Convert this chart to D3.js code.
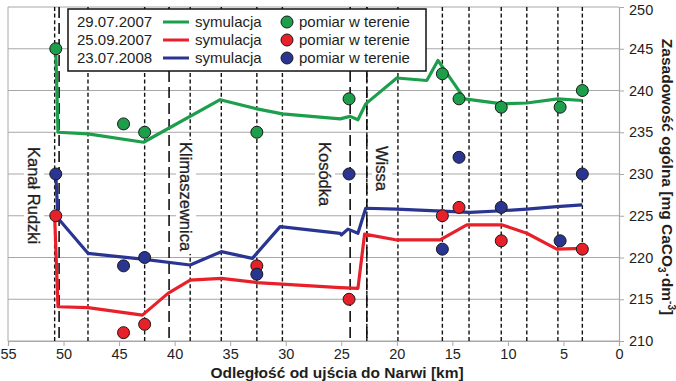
<!DOCTYPE html>
<html><head><meta charset="utf-8">
<script src="https://cdn.jsdelivr.net/npm/d3@7/dist/d3.min.js"></script>
<style>
html,body{margin:0;padding:0;background:#fff;}
svg{display:block;font-family:"Liberation Sans",Arial,Helvetica,sans-serif;}
</style></head>
<body>
<svg id="c" width="676" height="381"></svg>
<script>
// ---- data ----
const xTicks = [55,50,45,40,35,30,25,20,15,10,5,0];
const yTicks = [210,215,220,225,230,235,240,245,250];

const seriesNames = ["29.07.2007","25.09.2007","23.07.2008"];
const seriesColors = ["#1c9e4b","#e8202a","#2a3592"];

// simulation lines: [km, value]
const simGreen = [[50.7,245],[50.5,235],[47.8,234.8],[42.8,233.8],[35.9,238.9],[32.6,237.8],[30.3,237.2],[25.1,236.6],[24.2,236.9],[23.5,236.5],[22.8,238.4],[20.0,241.5],[17.3,241.2],[16.3,243.6],[13.9,239.0],[10.5,238.4],[8.3,238.5],[5.5,239.0],[3.3,238.8]];
const simRed = [[50.8,225],[50.5,214.1],[47.8,214.0],[42.9,213.1],[40.6,215.7],[38.6,217.3],[35.8,217.5],[32.6,217.0],[25.1,216.4],[23.5,216.3],[22.9,222.8],[20.0,222.1],[16.1,222.1],[13.7,223.9],[10.5,223.9],[8.3,222.9],[5.6,221.0],[3.3,221.1]];
const simBlue = [[50.7,230],[50.5,224.7],[47.8,220.5],[42.9,219.8],[38.6,219.1],[35.8,220.7],[33.0,219.9],[30.5,223.7],[25.1,222.9],[25.0,222.7],[24.4,223.4],[23.5,222.9],[22.8,225.9],[20.0,225.8],[13.4,225.4],[10.5,225.6],[8.3,225.8],[5.6,226.1],[3.3,226.3]];

// field measurements: [km, value]
const measGreen = [[50.7,245],[44.6,236],[42.7,235],[32.6,235],[24.3,239],[15.9,242],[14.4,239],[10.6,238],[5.3,238],[3.3,240]];
const measRed = [[50.7,225],[44.6,211],[42.7,212],[32.6,219],[24.3,215],[15.9,225],[14.4,226],[10.6,222],[3.3,221]];
const measBlue = [[50.7,230],[44.6,219],[42.7,220],[32.6,218],[24.3,230],[15.9,221],[14.4,232],[10.6,226],[5.3,222],[3.3,230]];

// vertical reference lines
const stationKm = [50.8,47.8,42.7,38.6,35.8,32.6,30.3,22.7,19.9,15.9,13.5,10.6,8.3,5.5,3.3];
const tributaryKm = [50.4,40.5,24.2,22.7];
const tributaryNames = ["Kanał Rudzki","Klimaszewnica","Kosódka","Wissa"];

const xTitle = "Odległość od ujścia do Narwi [km]";
const legendLine = "symulacja";
const legendDot = "pomiar w terenie";

// ---- chart ----
const svg = d3.select("#c");
const L = 8, R = 619, T = 7, B = 341;
const x = d3.scaleLinear().domain([55,0]).range([L,R]);
const y = d3.scaleLinear().domain([210,250]).range([B,T]);
const gridC = "#a8a8a8", textC = "#1e1e1e";

// horizontal grid
svg.append("g").selectAll("line").data(yTicks).join("line")
  .attr("x1",L).attr("x2",R).attr("y1",d=>y(d)).attr("y2",d=>y(d))
  .attr("stroke",gridC).attr("stroke-width",1);
// left border
svg.append("line").attr("x1",L).attr("x2",L).attr("y1",T).attr("y2",B)
  .attr("stroke",gridC).attr("stroke-width",1);

// vertical station lines (short dash)
svg.append("g").selectAll("line").data(stationKm).join("line")
  .attr("x1",d=>x(d)).attr("x2",d=>x(d)).attr("y1",T).attr("y2",B)
  .attr("stroke","#111").attr("stroke-width",1.4).attr("stroke-dasharray","4,2.6");
// tributary lines (long dash)
svg.append("g").selectAll("line").data(tributaryKm).join("line")
  .attr("x1",d=>x(d)).attr("x2",d=>x(d)).attr("y1",T).attr("y2",B)
  .attr("stroke","#111").attr("stroke-width",1.6).attr("stroke-dasharray","11,5");

// tributary labels (rotated, white background)
const labelPos = [[34,147],[186,142],[325,142],[382,146]];
const lg = svg.append("g");
tributaryNames.forEach((n,i)=>{
  const g = lg.append("g").attr("transform",`translate(${labelPos[i][0]},${labelPos[i][1]}) rotate(90)`);
  const t = g.append("text").attr("x",0).attr("y",0).attr("dy","0.36em")
    .attr("font-size",16.5).attr("fill",textC).attr("stroke",textC).attr("stroke-width",0.3).text(n);
  const bb = t.node().getBBox();
  g.insert("rect","text").attr("x",bb.x-2).attr("y",bb.y-1).attr("width",bb.width+4).attr("height",bb.height+2).attr("fill","#fff");
});

// axes
const xAxis = svg.append("g").attr("transform",`translate(0,${B})`)
  .call(d3.axisBottom(x).tickValues(xTicks).tickSize(5).tickPadding(3).tickFormat(d3.format("d")));
xAxis.select(".domain").attr("stroke",gridC).attr("stroke-width",1.2);
xAxis.selectAll(".tick line").attr("stroke",gridC);
xAxis.selectAll(".tick text").attr("font-size",14.5).attr("fill",textC).attr("font-family","Liberation Sans, Arial, sans-serif");

const yAxis = svg.append("g").attr("transform",`translate(${R},0)`)
  .call(d3.axisRight(y).tickValues(yTicks).tickSize(5).tickPadding(5).tickFormat(d3.format("d")));
yAxis.select(".domain").attr("stroke",gridC).attr("stroke-width",1.2);
yAxis.selectAll(".tick line").attr("stroke",gridC);
yAxis.selectAll(".tick text").attr("font-size",14.5).attr("fill",textC).attr("font-family","Liberation Sans, Arial, sans-serif");
yAxis.selectAll(".tick text").filter(d=>d===250).attr("dy","0.5em");

// titles
svg.append("text").attr("x",337).attr("y",378).attr("text-anchor","middle")
  .attr("font-size",15.5).attr("font-weight","bold").attr("fill",textC).text(xTitle);
const yt = svg.append("text").attr("transform","translate(668,177) rotate(90)")
  .attr("text-anchor","middle").attr("dy","0.36em")
  .attr("font-size",15.5).attr("font-weight","bold").attr("fill",textC);
yt.append("tspan").text("Zasadowość ogólna [mg CaCO");
yt.append("tspan").attr("font-size",10).attr("dy","4").text("3");
yt.append("tspan").attr("dy","-4").text("·dm");
yt.append("tspan").attr("font-size",10).attr("dy","-6").text("-3");
yt.append("tspan").attr("dy","6").text("]");

// simulation lines
const line = d3.line().x(d=>x(d[0])).y(d=>y(d[1]));
[simGreen,simRed,simBlue].forEach((s,i)=>{
  svg.append("path").datum(s).attr("d",line).attr("fill","none")
    .attr("stroke",seriesColors[i]).attr("stroke-width",3.2)
    .attr("stroke-linejoin","round").attr("stroke-linecap","butt");
});

// measurement points
[measGreen,measRed,measBlue].forEach((s,i)=>{
  svg.append("g").selectAll("circle").data(s).join("circle")
    .attr("cx",d=>x(d[0])).attr("cy",d=>y(d[1])).attr("r",6)
    .attr("fill",seriesColors[i]).attr("stroke","#1a1a1a").attr("stroke-width",1);
});

// legend
const leg = svg.append("g");
leg.append("rect").attr("x",68).attr("y",9).attr("width",358).attr("height",62)
  .attr("fill","#fff").attr("stroke","#111").attr("stroke-width",1.5);
seriesNames.forEach((n,i)=>{
  const cy = 22 + i*18;
  leg.append("text").attr("x",77).attr("y",cy).attr("dy","0.36em").attr("font-size",15).attr("fill",textC).text(n);
  leg.append("line").attr("x1",163).attr("x2",189).attr("y1",cy).attr("y2",cy)
    .attr("stroke",seriesColors[i]).attr("stroke-width",3);
  leg.append("text").attr("x",195).attr("y",cy).attr("dy","0.36em").attr("font-size",15).attr("fill",textC).text(legendLine);
  leg.append("circle").attr("cx",287).attr("cy",cy).attr("r",6)
    .attr("fill",seriesColors[i]).attr("stroke","#1a1a1a").attr("stroke-width",1);
  leg.append("text").attr("x",299).attr("y",cy).attr("dy","0.36em").attr("font-size",15).attr("fill",textC).text(legendDot);
});
</script>
</body></html>
